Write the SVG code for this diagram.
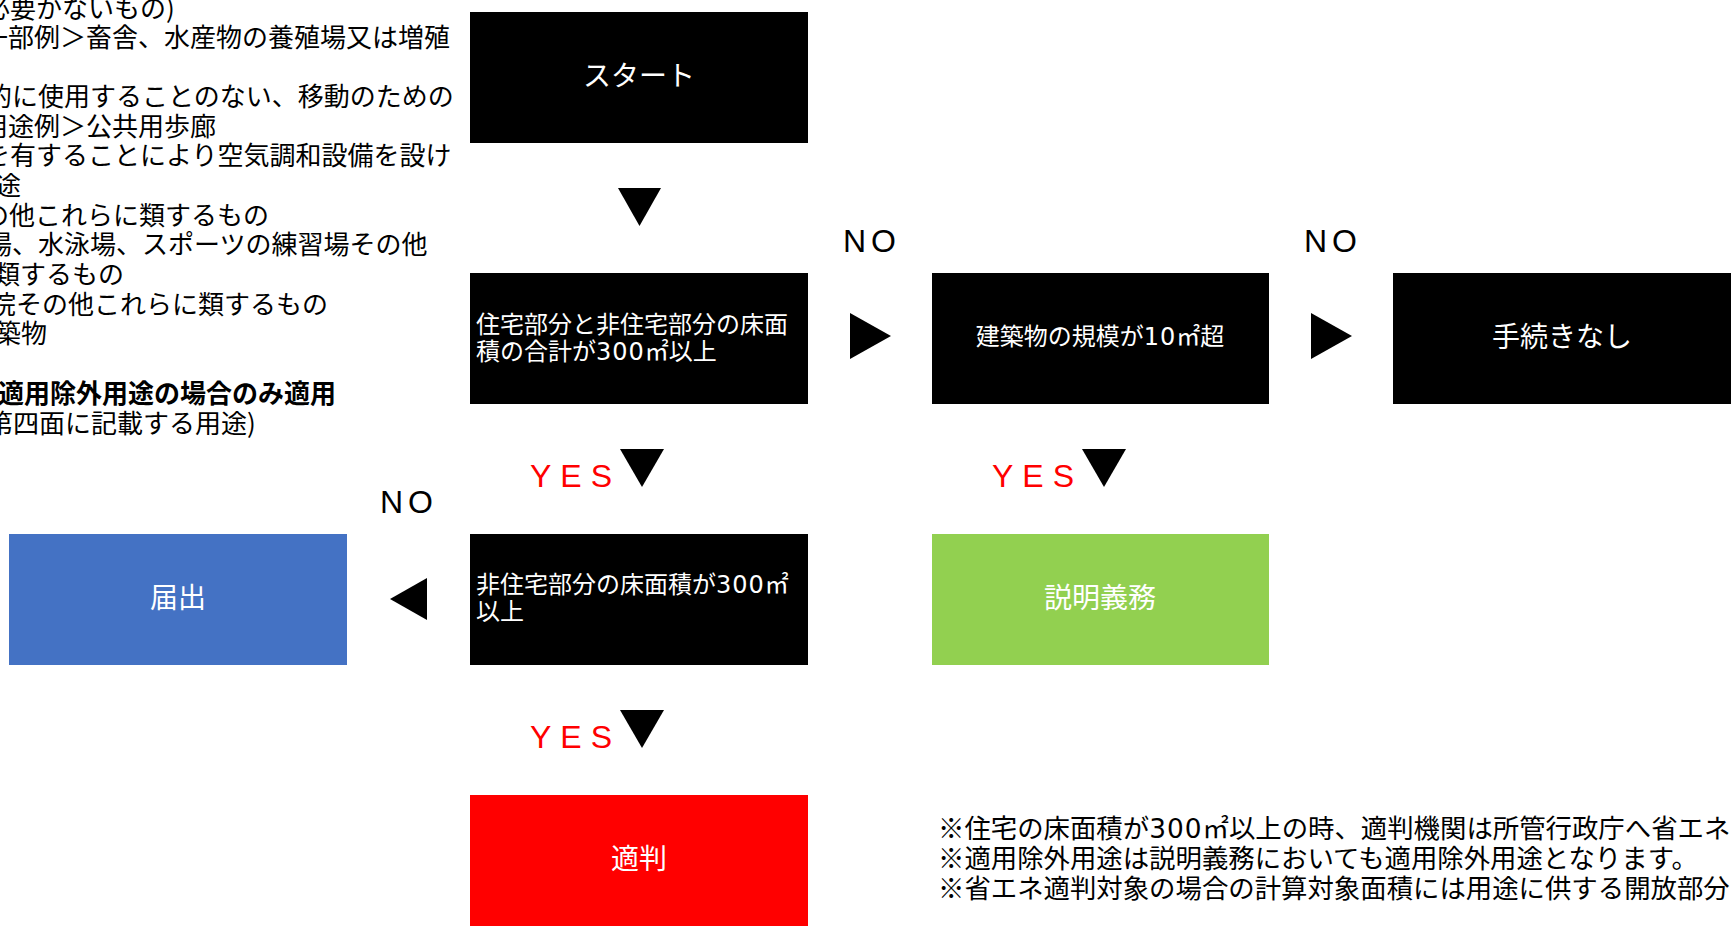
<svg xmlns="http://www.w3.org/2000/svg" width="1731" height="930" viewBox="0 0 1731 930">
<style>
.bg{fill:#ffffff}
.blk{fill:#000000}
.jp{font-family:"Noto Sans CJK JP","Noto Sans",sans-serif}
.lt{font-size:26px;fill:#000000}
.bd{font-weight:bold}
.bt{font-size:28px;fill:#ffffff;text-anchor:middle}
.bs{font-size:24px;fill:#ffffff}
.dg{font-family:"DejaVu Sans",sans-serif;letter-spacing:1px}
.no{font-family:"Liberation Sans",sans-serif;font-size:32px;fill:#000000;letter-spacing:5px}
.yes{font-family:"Liberation Sans",sans-serif;font-size:32px;fill:#ff0000;letter-spacing:9px}
.tri{fill:#000000}
.note{font-size:26.4px;fill:#000000}
</style>
<rect class="bg" x="0" y="0" width="1731" height="930"/>

<g id="legend" class="jp lt">
<text x="-16" y="18">必要かないもの)</text>
<text x="-18" y="47">一部例＞畜舎、水産物の養殖場又は増殖</text>
<text x="-14" y="106">的に使用することのない、移動のための</text>
<text x="-18" y="136">用途例＞公共用歩廊</text>
<text x="-16" y="165">を有することにより空気調和設備を設け</text>
<text x="-5" y="195">途</text>
<text x="-17" y="225">の他これらに類するもの</text>
<text x="-14" y="254">場、水泳場、スポーツの練習場その他</text>
<text x="-6" y="284">類するもの</text>
<text x="-10" y="314">院その他これらに類するもの</text>
<text x="-5" y="343">築物</text>
<text class="bd" x="-2" y="403">適用除外用途の場合のみ適用</text>
<text x="-13" y="433">第四面に記載する用途)</text>
</g>

<g id="node-start">
<rect class="blk" x="470" y="12" width="338" height="131"/>
<text class="jp bt" x="639" y="86">スタート</text>
</g>
<g id="node-total">
<rect class="blk" x="470" y="273" width="338" height="131"/>
<text class="jp bs" x="476" y="333">住宅部分と非住宅部分の床面</text>
<text class="jp bs" x="476" y="360">積の合計が<tspan class="dg">300</tspan>㎡以上</text>
</g>
<g id="node-scale">
<rect class="blk" x="932" y="273" width="337" height="131"/>
<text class="jp bs" x="1100" y="345" text-anchor="middle">建築物の規模が<tspan class="dg">10</tspan>㎡超</text>
</g>
<g id="node-none">
<rect class="blk" x="1393" y="273" width="338" height="131"/>
<text class="jp bt" x="1562" y="347">手続きなし</text>
</g>
<g id="node-nonres">
<rect class="blk" x="470" y="534" width="338" height="131"/>
<text class="jp bs" x="476" y="593">非住宅部分の床面積が<tspan class="dg">300</tspan>㎡</text>
<text class="jp bs" x="476" y="620">以上</text>
</g>
<g id="node-todokede">
<rect x="9" y="534" width="338" height="131" fill="#4472c4"/>
<text class="jp bt" x="178" y="608">届出</text>
</g>
<g id="node-setsumei">
<rect x="932" y="534" width="337" height="131" fill="#92d050"/>
<text class="jp bt" x="1100" y="608">説明義務</text>
</g>
<g id="node-tekihan">
<rect x="470" y="795" width="338" height="131" fill="#ff0000"/>
<text class="jp bt" x="639" y="869">適判</text>
</g>

<g id="connectors">
<polygon class="tri" points="618,188 661,188 639.5,226"/>
<polygon class="tri" points="850,313 850,359 891,336"/>
<polygon class="tri" points="1311,313 1311,359 1352,336"/>
<polygon class="tri" points="620,449 664,449 642,487"/>
<polygon class="tri" points="1082,449 1126,449 1104,487"/>
<polygon class="tri" points="427,578 427,620 390,599"/>
<polygon class="tri" points="620,710 664,710 642,748"/>
<text class="no" x="843" y="252">NO</text>
<text class="no" x="1304" y="252">NO</text>
<text class="no" x="380" y="513">NO</text>
<text class="yes" x="530" y="487">YES</text>
<text class="yes" x="992" y="487">YES</text>
<text class="yes" x="530" y="748">YES</text>
</g>

<g id="notes" class="jp note">
<text x="938" y="838">※住宅の床面積が<tspan class="dg">300</tspan>㎡以上の時、適判機関は所管行政庁へ省エネ</text>
<text x="938" y="868">※適用除外用途は説明義務においても適用除外用途となります。</text>
<text x="938" y="898">※省エネ適判対象の場合の計算対象面積には用途に供する開放部分</text>
</g>
</svg>
